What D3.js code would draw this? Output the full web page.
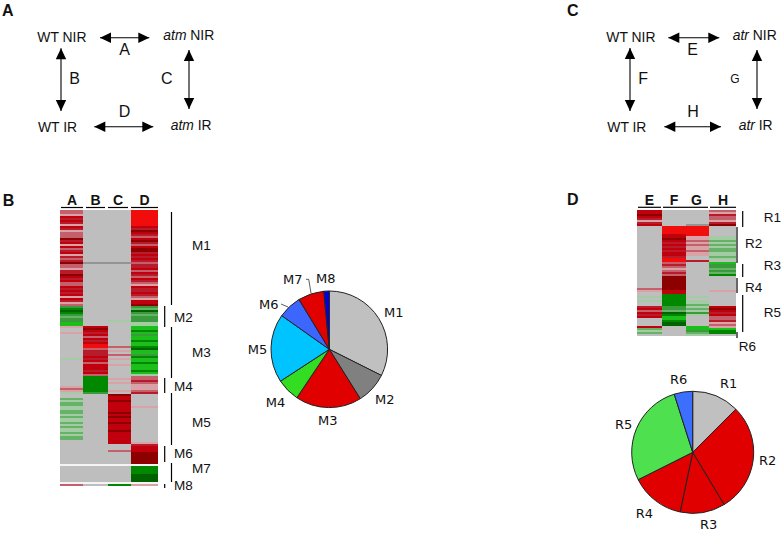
<!DOCTYPE html>
<html><head><meta charset="utf-8">
<script src="https://cdn.jsdelivr.net/npm/d3@7"></script>
<style>html,body{margin:0;background:#fff}svg{display:block}
text{fill:#111}</style></head><body><svg id="c" width="782" height="533">
<defs><filter id="soft" x="-5%" y="-5%" width="110%" height="110%"><feGaussianBlur stdDeviation="0.45"/></filter></defs></svg>
<script>
// ---------- data ----------
const modulesM = ["M1","M2","M3","M4","M5","M6","M7","M8"];
const modulesR = ["R1","R2","R3","R4","R5","R6"];
const pieM = [32.4,8.7,18.3,6.4,19,6.5,7.2,1.5];
const pieR = [12.5,28.9,11.9,14.3,27.5,4.9];
const pieMColors = ["#c0c0c0","#808080","#e00000","#33dd22","#00c4ff","#3d66ff","#e00000","#0000e0"];
const pieRColors = ["#c0c0c0","#e00000","#e00000","#e00000","#4fe04f","#3d6fff"];
const colsM = ["A","B","C","D"];
const colsR = ["E","F","G","H"];
// one character per row; per module
const heatA = ["bbadcdcadcabbbecdadbcdacbcebbaccedcdbbdcdcdadcab","ijkjihiill","a..a............g........",".....abag","..hghhgghhghgghghgghghh..","..........","w........w","b"];
const heatB = ["..........................m.....................","..........","dedcdbdcdffbcccdcdbdddcdb","jjjjjjjji",".........................","..........","w........w","."];
const heatC = ["..........................m.....................",".......g..","..........b.a.b.a..a.....",".a.a...a.","eddedddddededdedddedddddd","...b......","w........w","j"];
const heatD = ["ffffffffdcedcbdecbdeecdcdcbccdbdcbdcbadccdcbadde","ihkihiiigg","lljlilljlljkllijlljllljlg","bbcbaaabc","......a.................a","cdddeeeeee","wjjjjkkkkw","a"];
const heatE = ["ddedcacd","..................",".......","......ba.",".g.g..cdbdcd....d","hgh."];
const heatF = ["........","ffffddedcdcdcddcff","bcbabcb","eeeeeeedd","jjjjjjiihkjlljkk.","...."];
const heatG = [".......m","fffffaababaabaa..c",".......",".........",".g.gghghgig.....l","lihg"];
const heatH = ["bacbbace",".....gghghghhgghg.","liihihj",".......a.","......dedcdbbcaba","ljj."];
const levelKeys = [".","m","w","a","b","c","d","e","f","g","h","i","j","k","l"];
const levelColors = ["#bebebe","#949494","#f4f4f4","#d8a2a6","#c4606c","#b81c2a","#c00010","#8c0000","#f20808","#a4cca4","#66b266","#3a9a3a","#008800","#006400","#1fbe1f"];

// ---------- helpers ----------
const svg = d3.select("#c");
const colour = d3.scaleOrdinal(levelKeys, levelColors);
const AR = "Liberation Sans, Arial, sans-serif", DV = "DejaVu Sans, Verdana, sans-serif";
function label(x,y,s,size,font,weight){
  return svg.append("text").attr("x",x).attr("y",y).attr("font-size",size)
    .attr("font-family",font||AR).attr("font-weight",weight||"normal").text(s);
}
function seg(x1,y1,x2,y2,w,c){
  svg.append("line").attr("x1",x1).attr("y1",y1).attr("x2",x2).attr("y2",y2)
    .attr("stroke",c||"#000").attr("stroke-width",w||1.4);
}
function arrow(x1,y1,x2,y2){
  const L=11,H=5.2,a=Math.atan2(y2-y1,x2-x1);
  seg(x1,y1,x2,y2,1.1);
  [[x1,y1,a],[x2,y2,a+Math.PI]].forEach(([x,y,t])=>{
    const bx=x+L*Math.cos(t),by=y+L*Math.sin(t);
    svg.append("path").attr("fill","#000").attr("d",
      `M${x},${y}L${bx-H*Math.sin(t)},${by+H*Math.cos(t)}L${bx+H*Math.sin(t)},${by-H*Math.cos(t)}Z`);
  });
}
function heatmap(columns,names,edges,top,rowH){
  const nRows=columns[0].join("").length;
  const y=d3.scaleBand().domain(d3.range(nRows)).range([top,top+nRows*rowH]);
  const x0=d3.scaleOrdinal(names,edges.slice(0,-1)), x1=d3.scaleOrdinal(names,edges.slice(1));
  const g=svg.append("g").attr("filter","url(#soft)");
  names.forEach((n,i)=>{
    const cells=columns[i].join("").split("");
    g.append("g").selectAll("rect").data(cells).join("rect")
      .attr("x",x0(n)).attr("width",x1(n)-x0(n))
      .attr("y",(d,k)=>y(k)).attr("height",y.bandwidth())
      .attr("fill",d=>colour(d));
  });
}
function pie(values,colors,cx,cy,r){
  const arcs=d3.pie().sort(null)(values);
  const arc=d3.arc().innerRadius(0).outerRadius(r);
  svg.append("g").attr("transform",`translate(${cx},${cy})`)
    .selectAll("path").data(arcs).join("path")
    .attr("d",arc).attr("fill",(d,i)=>colors[i])
    .attr("stroke","#222").attr("stroke-width",1);
}

// ---------- panel letters ----------
label(2,15.7,"A",16,AR,"bold");
label(567,15.7,"C",16,AR,"bold");
label(2.7,205.7,"B",16,AR,"bold");
label(567,205,"D",16,AR,"bold");

// ---------- panel A ----------
label(37.3,41.7,"WT NIR",13.9);
label(38,132.3,"WT IR",13.9);
let t=label(163.3,40,"",13.9); t.append("tspan").attr("font-style","italic").text("atm"); t.append("tspan").text(" NIR");
t=label(170.7,130,"",13.9); t.append("tspan").attr("font-style","italic").text("atm"); t.append("tspan").text(" IR");
label(119.3,55,"A",16); label(69.3,84,"B",16); label(161,84,"C",16); label(118.7,117.3,"D",16);
arrow(100,37.7,149.3,37.7); arrow(61,48.3,61,111); arrow(189,50,189,109); arrow(94.3,126.7,153.3,126.7);

// ---------- panel C ----------
label(606.3,41.7,"WT NIR",13.9);
label(607.3,132.3,"WT IR",13.9);
t=label(732.7,40,"",13.9); t.append("tspan").attr("font-style","italic").text("atr"); t.append("tspan").text(" NIR");
t=label(738.7,130,"",13.9); t.append("tspan").attr("font-style","italic").text("atr"); t.append("tspan").text(" IR");
label(687.3,55,"E",16); label(638.3,84,"F",16); label(730.3,83,"G",12); label(687.3,117.3,"H",16);
arrow(668.3,37.7,719.3,37.7); arrow(630,48,630,111); arrow(757,50,757,109); arrow(664.3,126.7,721,126.7);

// ---------- heatmaps ----------
heatmap([heatA,heatB,heatC,heatD],colsM,[60,83,108,131,158],210,2);
heatmap([heatE,heatF,heatG,heatH],colsR,[637,662,686,709,736],210,2);

// column headers
[[61,83],[86,105],[108,128],[131,158]].forEach((e,i)=>{
  seg(e[0],207.5,e[1],207.5,1.2);
  label((e[0]+e[1])/2,204.5,colsM[i],14,AR,"bold").attr("text-anchor","middle");
});
[[638,661],[663,685],[685,708],[710,736]].forEach((e,i)=>{
  seg(e[0],207.3,e[1],207.3,1.2);
  label((e[0]+e[1])/2,204.5,colsR[i],14,AR,"bold").attr("text-anchor","middle");
});

// module brackets
const bracketM=[[171.5,212,305],[164.7,306,327],[171.5,327,378],[164.7,378,393],[171.5,393,445],[164.7,446,462],[171.5,463,482],[164.7,484,488]];
const bracketR=[[742.7,211,227],[737,227,263],[742.7,264,277],[737,278,293],[742.7,295,332],[737,332,338]];
bracketM.concat(bracketR).forEach(b=>seg(b[0],b[1],b[0],b[2],1.2));
const labM=[[192,250],[174,322],[192,357],[174,391],[192,427],[174,458],[192,473],[174,490]];
labM.forEach((p,i)=>label(p[0],p[1],modulesM[i],13.5));
const labR=[[763.7,222],[745,248],[763.7,270],[745,292],[763.7,317],[738.7,350.7]];
labR.forEach((p,i)=>label(p[0],p[1],modulesR[i],13.5));

// ---------- pies ----------
pie(pieM,pieMColors,329.3,349.3,58.3);
pie(pieR,pieRColors,692.7,452.3,61);
const pieLabM=[[384,316.7],[375,404],[318,424.5],[265.7,407],[247.7,353.7],[259,309],[283,284],[316,282.7]];
pieLabM.forEach((p,i)=>label(p[0],p[1],modulesM[i],13,DV));
const pieLabR=[[720,388.3],[759,465],[700,529],[635.7,518],[615,429],[670,384]];
pieLabR.forEach((p,i)=>label(p[0],p[1],modulesR[i],13,DV));
svg.append("path").attr("fill","none").attr("stroke","#333").attr("stroke-width",0.8)
  .attr("d","M281,304L288,307M306,279.3L308.7,279.3L311,293");
</script></body></html>
